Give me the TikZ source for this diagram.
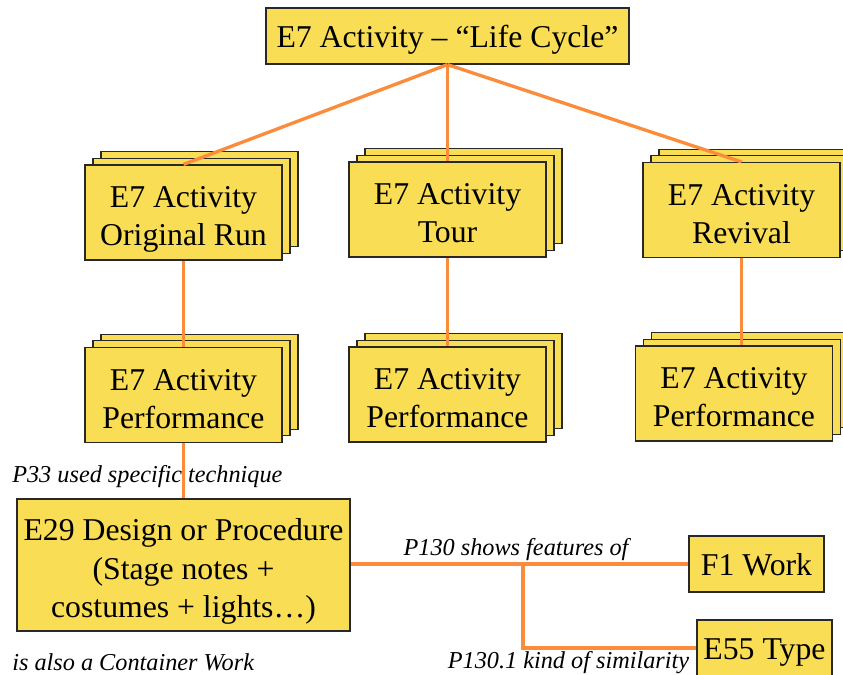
\documentclass[tikz,border=0pt]{standalone}
\usepackage{fontspec}
\setmainfont{Liberation Serif}
\usetikzlibrary{shadows}
\definecolor{boxfill}{RGB}{249,221,85}
\definecolor{linkc}{RGB}{250,140,60}
\definecolor{boxline}{RGB}{40,40,40}
\newcommand\tstr{\rule{0pt}{28pt}}
\newcommand\bstr{\rule[-7pt]{0pt}{7pt}}
\newcommand\sstr{\rule[-6pt]{0pt}{28.5pt}}
\begin{document}
\begin{tikzpicture}[x=0.75pt,y=-0.75pt,
  box/.style={draw=boxline, fill=boxfill, line width=0.9pt, font=\fontsize{23.8}{28.5}\selectfont, align=center, inner sep=0pt},
  stackbox/.style={box, minimum width=147.75pt, minimum height=71.25pt,
     double copy shadow={shadow xshift=6pt, shadow yshift=5pt}},
  link/.style={draw=linkc, line width=2.5pt},
  lab/.style={font=\fontsize{18.2}{21}\selectfont\itshape, inner sep=0pt}]
\useasboundingbox (0,0) rectangle (843,675);
\fill[white] (0,0) rectangle (843,675);

\node[box, minimum width=272.25pt, minimum height=42pt] (top) at (447.5,36) {\sstr E7 Activity -- “Life Cycle”};

\node[stackbox] (orig) at (183.5,212.5) {\tstr E7 Activity\\Original Run\bstr};
\node[stackbox] (tour) at (447.5,209.5) {\tstr E7 Activity\\Tour\bstr};
\node[stackbox] (rev) at (741.5,210) {\tstr E7 Activity\\Revival\bstr};

\node[stackbox] (perfa) at (183.5,395) {\tstr E7 Activity\\Performance\bstr};
\node[stackbox] (perfb) at (447.5,394.5) {\tstr E7 Activity\\Performance\bstr};
\node[stackbox] (perfc) at (734,393.5) {\tstr E7 Activity\\Performance\bstr};

\node[box, minimum width=249.75pt, minimum height=99pt, font=\fontsize{23.8}{29}\selectfont] (e29) at (183.5,565)
  {\tstr E29 Design or Procedure\\(Stage notes +\\costumes + lights…)\bstr};

\node[box, minimum width=101.25pt, minimum height=42pt] (f1) at (756.5,564) {\sstr F1 Work};
\node[box, minimum width=101.25pt, minimum height=42pt] (e55) at (764.5,648) {\sstr E55 Type};

\draw[link] (top.south) -- (orig.north);
\draw[link] (top.south) -- (tour.north);
\draw[link] (top.south) -- (rev.north);
\draw[link] (orig.south) -- (perfa.north);
\draw[link] (tour.south) -- (perfb.north);
\draw[link] (rev.south) -- (rev.south |- perfc.north);
\draw[link] (perfa.south) -- (e29.north);
\draw[link] (e29.east |- f1.west) -- (f1.west);
\coordinate (j) at (523,564);
\draw[link] (j) |- (e55.west);

\node[lab, anchor=base west] (p33) at (12,482) {P33 used specific technique};
\node[lab, anchor=base west] (cont) at (12,670) {is also a Container Work};
\node[lab, anchor=base] (p130) at (516,555) {P130 shows features of};
\node[lab, anchor=base] (p1301) at (568.5,668) {P130.1 kind of similarity};
\end{tikzpicture}
\end{document}
